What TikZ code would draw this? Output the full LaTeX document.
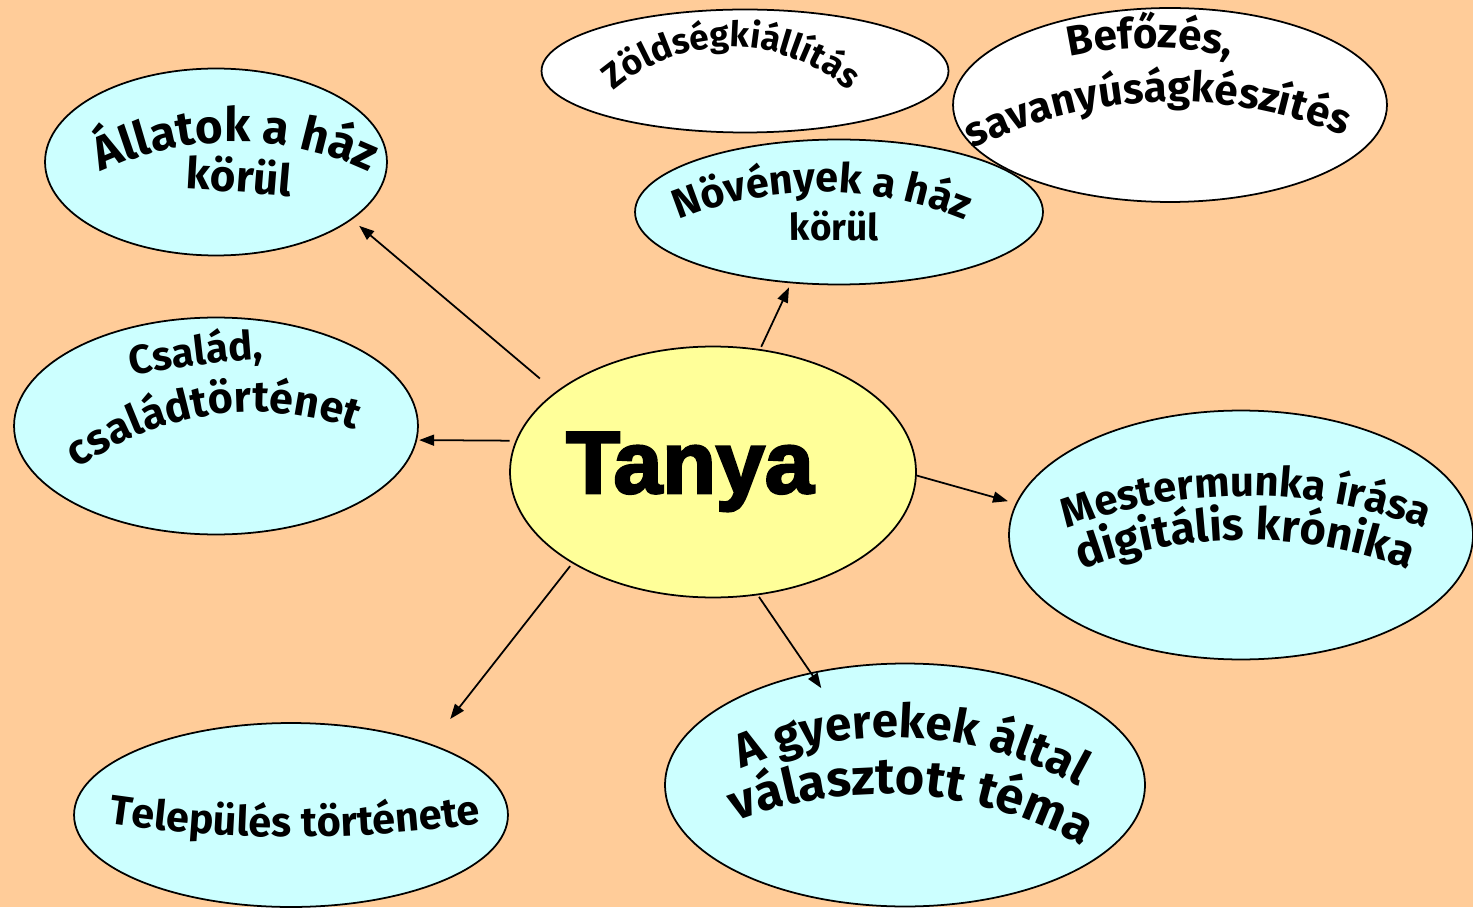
\documentclass[tikz,border=0pt]{standalone}
\usepackage{fontspec}
\usetikzlibrary{arrows.meta,shapes.geometric,calc,decorations.text}
\newfontfamily\labelfont{Fira Sans}
\newfontfamily\hubfont{Liberation Sans}[BoldFeatures={FakeBold=3}]
\definecolor{peach}{HTML}{FFCC99}
\definecolor{topicfill}{HTML}{CCFFFF}
\definecolor{hubfill}{HTML}{FFFF99}
\newcommand\arcfont{\labelfont\bfseries\fontsize{\arcsize}{\arcsize}\selectfont}
% curved label: centre x, centre y, radius, normal angle, size, text
\newcommand\wordarc[6]{%
  \def\arcsize{#5}%
  \pgfmathsetmacro\arcspan{350/(#3)*57.2958}%
  \path[decorate,decoration={text along path,text align=center,text={|\arcfont|#6}}]
    ($(#1,#2)+(#4+180:#3)+(#4+\arcspan:#3)$) arc[start angle=#4+\arcspan,end angle=#4-\arcspan,radius=#3];}

\begin{document}
\begin{tikzpicture}[x=0.02cm,y=0.02cm,
  topic/.style={draw,ellipse,line width=1pt,fill=topicfill,inner sep=0pt},
  side/.style={topic,fill=white},
  hub/.style={topic,fill=hubfill},
  link/.style={line width=1pt,-{Triangle[length=0.3cm,width=0.22cm]}}]
\useasboundingbox (0,0) rectangle (1473,907);
\fill[peach] (0,0) rectangle (1473,907);

% ellipses
\node[side,minimum width=8.14cm,minimum height=2.46cm] (zoldseg) at (745,836) {};
\node[side,minimum width=8.68cm,minimum height=3.88cm] (befozes) at (1170,802) {};
\node[topic,minimum width=8.16cm,minimum height=2.9cm] (novenyek) at (839,695) {};
\node[topic,minimum width=6.84cm,minimum height=3.74cm] (allatok) at (216,745) {};
\node[topic,minimum width=8.08cm,minimum height=4.34cm] (csalad) at (216,481) {};
\node[hub,minimum width=8.12cm,minimum height=5.02cm] (tanya) at (713,435) {};
\node[topic,minimum width=9.28cm,minimum height=4.98cm] (mester) at (1241,372) {};
\node[topic,minimum width=9.6cm,minimum height=4.86cm] (gyerekek) at (905,122) {};
\node[topic,minimum width=8.68cm,minimum height=3.68cm] (telepules) at (291,92) {};

\node[font=\hubfont\bfseries\fontsize{50}{50}\selectfont,anchor=base] (tanyalabel) at (690,414) {Tanya};

% arrows
\draw[link,shorten <=0.41cm,shorten >=0.19cm] (tanya.153) -- (allatok.-23);
\draw[link,shorten <=0.05cm,shorten >=0.09cm] (tanya.69) -- (novenyek.-124);
\draw[link,shorten <=0.12cm,shorten >=0.04cm] (tanya.171) -- (csalad.-4);
\draw[link,shorten >=0.16cm] (tanya.-1) -- (mester.172);
\draw[link,shorten <=0.04cm,shorten >=-0.38cm] (tanya.-70) -- (gyerekek.130);
\draw[link,shorten <=0.07cm,shorten >=0.63cm] (tanya.-147) -- (telepules.27);

% curved texts
\wordarc{235}{765}{315}{90}{27}{Állatok a ház}
\wordarc{238}{715}{3000}{86}{25}{körül}
\wordarc{731}{860}{180}{90}{20}{Zöldségkiállítás}
\wordarc{1150}{859}{375}{90}{24}{Befőzés,}
\wordarc{1157}{805}{445}{92}{24}{savanyúságkészítés}
\wordarc{822}{715}{380}{90}{23.5}{Növények a ház}
\wordarc{834}{667}{3000}{90}{21}{körül}
\wordarc{197}{542}{1000}{97}{23}{Család,}
\wordarc{212}{492}{300}{98}{24.5}{családtörténet}
\wordarc{1246}{411}{510}{90}{23.8}{Mestermunka írása}
\wordarc{1245}{367}{470}{90}{25.6}{digitális krónika}
\wordarc{912}{169}{380}{87}{27}{A gyerekek által}
\wordarc{912}{112}{410}{86}{28.6}{választott téma}
\wordarc{295}{70}{-1300}{90}{23.5}{Település története}
\end{tikzpicture}
\end{document}
